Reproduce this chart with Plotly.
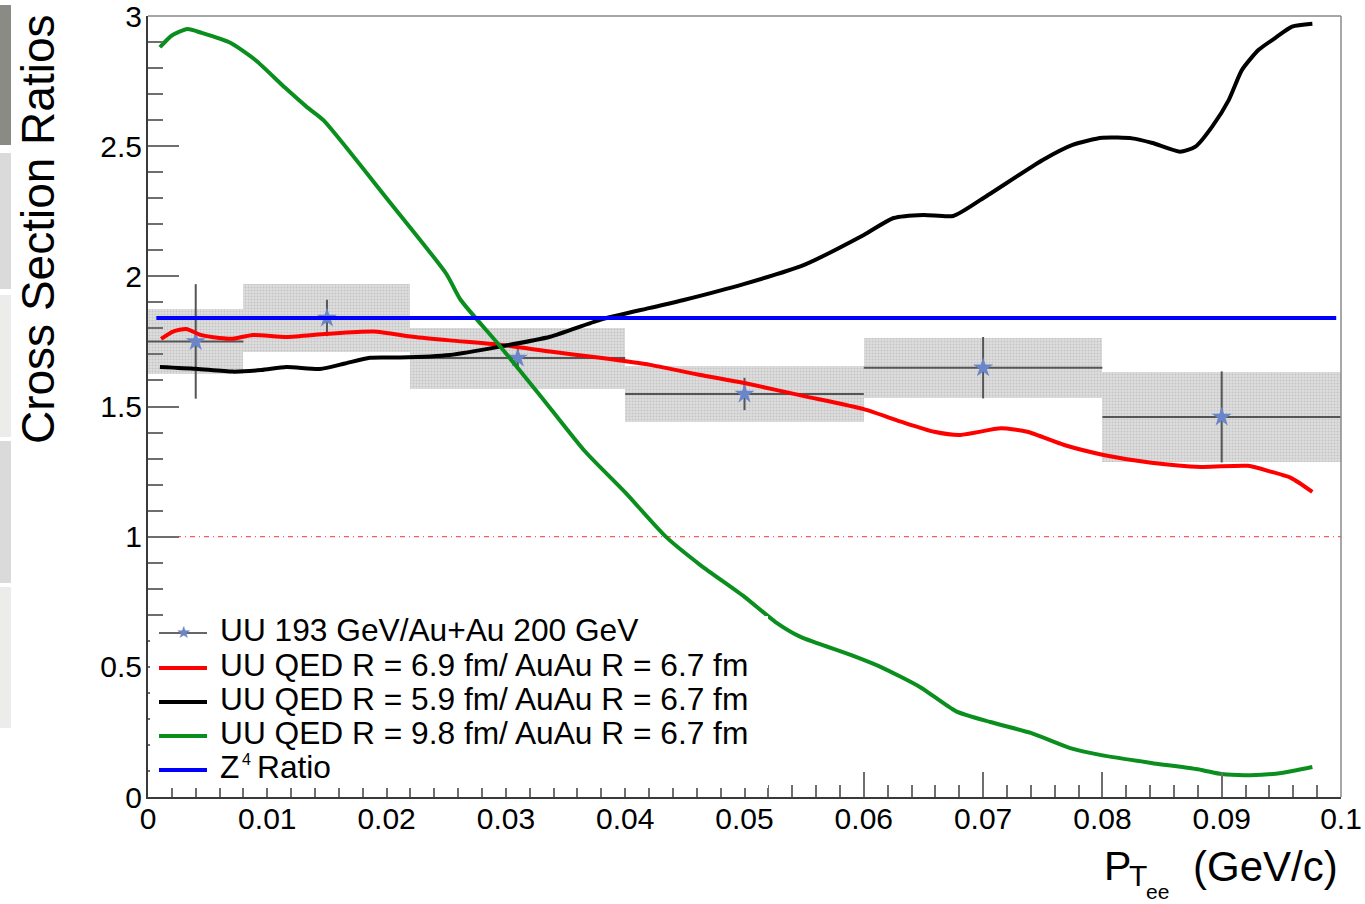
import plotly.graph_objects as go

# ---------------- data ----------------
# measured UU/AuAu ratio with statistical and systematic uncertainties
pt_data = [0.004, 0.015, 0.031, 0.05, 0.07, 0.09]
ratio_data = [1.75, 1.84, 1.686, 1.548, 1.649, 1.46]
pt_halfwidth = [0.004, 0.007, 0.009, 0.01, 0.01, 0.01]
stat_err = [0.22, 0.07, 0.035, 0.062, 0.118, 0.175]
sys_err = [0.124, 0.13, 0.117, 0.108, 0.115, 0.174]

# QED calculation, R(U) = 6.9 fm
pt_red = [0.0011, 0.0021, 0.0032, 0.0044, 0.006, 0.0071, 0.0088, 0.0116, 0.015,
          0.0189, 0.0222, 0.0253, 0.0295, 0.0337, 0.0379, 0.0421, 0.0449, 0.0463,
          0.05, 0.055, 0.06, 0.0631, 0.0659, 0.0681, 0.0715, 0.0737, 0.0768,
          0.0801, 0.0841, 0.0883, 0.0922, 0.0941, 0.0958, 0.0976]
ratio_red = [1.76, 1.788, 1.798, 1.775, 1.763, 1.76, 1.775, 1.767, 1.779,
             1.788, 1.768, 1.754, 1.737, 1.711, 1.687, 1.66, 1.634, 1.621,
             1.59, 1.54, 1.49, 1.442, 1.403, 1.391, 1.416, 1.403, 1.352,
             1.314, 1.284, 1.268, 1.272, 1.25, 1.226, 1.172]

# QED calculation, R(U) = 5.9 fm
pt_black = [0.001, 0.004, 0.0071, 0.0095, 0.0116, 0.0144, 0.0165, 0.0186, 0.0211,
            0.0253, 0.0295, 0.0337, 0.0379, 0.0421, 0.0449, 0.05, 0.055, 0.06,
            0.0625, 0.065, 0.0675, 0.07, 0.075, 0.0775, 0.08, 0.0825, 0.0842,
            0.0865, 0.0878, 0.0892, 0.0906, 0.0917, 0.0931, 0.0945, 0.0959, 0.0976]
ratio_black = [1.652, 1.645, 1.634, 1.64, 1.652, 1.644, 1.665, 1.687, 1.688,
               1.698, 1.73, 1.768, 1.833, 1.879, 1.909, 1.971, 2.044, 2.159,
               2.224, 2.236, 2.232, 2.30, 2.447, 2.505, 2.532, 2.53, 2.512,
               2.479, 2.498, 2.575, 2.678, 2.793, 2.87, 2.916, 2.959, 2.97]

# QED calculation, R(U) = 9.8 fm
pt_green = [0.001, 0.002, 0.0033, 0.0045, 0.0069, 0.009, 0.0115, 0.0133, 0.0147,
            0.02, 0.025, 0.0262, 0.0293, 0.033, 0.0366, 0.04, 0.0434, 0.0463,
            0.05, 0.0526, 0.0547, 0.0589, 0.0614, 0.0648, 0.0677, 0.0706, 0.074,
            0.0773, 0.0799, 0.0841, 0.0883, 0.09, 0.0924, 0.095, 0.0976]
ratio_green = [2.88, 2.925, 2.95, 2.935, 2.897, 2.831, 2.724, 2.651, 2.60,
               2.30, 2.01, 1.91, 1.743, 1.535, 1.329, 1.17, 1.0, 0.891,
               0.769, 0.672, 0.615, 0.546, 0.5, 0.42, 0.33, 0.288, 0.246,
               0.188, 0.161, 0.131, 0.104, 0.088, 0.084, 0.092, 0.115]

# Z^4 scaling, (92/79)^4
pt_z4 = [0.0007, 0.0996]
ratio_z4 = [1.84, 1.84]

# unity reference
pt_unity = [0.0, 0.1]
ratio_unity = [1.0, 1.0]

legend_labels = [
    "UU 193 GeV/Au+Au 200 GeV",
    "UU QED R = 6.9 fm/ AuAu R = 6.7 fm",
    "UU QED R = 5.9 fm/ AuAu R = 6.7 fm",
    "UU QED R = 9.8 fm/ AuAu R = 6.7 fm",
]
legend_colors = ["#666666", "#ff0000", "#000000", "#0a8f1e", "#0000ff"]

# ---------------- layout geometry (pixels) ----------------
FIG_W, FIG_H = 1365, 904
PL, PR, PT, PB = 148, 1341, 16, 797
PW, PH = PR - PL, PB - PT


def px(x):
    return (x - PL) / PW


def py(y):
    return (PB - y) / PH


FONT = "Liberation Sans, Arial, Helvetica, sans-serif"
STAR = "#6a86c8"
LEG_SIZE = 31.7

fig = go.Figure()

# systematic boxes
fig.add_trace(go.Bar(
    x=pt_data,
    y=[2 * s for s in sys_err],
    base=[r - s for r, s in zip(ratio_data, sys_err)],
    width=[2 * w for w in pt_halfwidth],
    marker=dict(color="#d4d4d4", line=dict(width=0),
                pattern=dict(shape=".", fgcolor="#acacac", bgcolor="#dedede",
                             size=3, solidity=0.4)),
    showlegend=False, hoverinfo="skip",
))

# data points with statistical errors
fig.add_trace(go.Scatter(
    x=pt_data, y=ratio_data, mode="markers",
    marker=dict(symbol="star", size=15, color=STAR, line=dict(width=0)),
    error_x=dict(type="data", array=pt_halfwidth, color="#555555", thickness=2, width=0),
    error_y=dict(type="data", array=stat_err, color="#555555", thickness=2, width=0),
    showlegend=False,
))

# unity line
fig.add_trace(go.Scatter(
    x=pt_unity, y=ratio_unity, mode="lines",
    line=dict(color="rgba(255,60,60,0.85)", width=1.2, dash="5px,4px,1px,4px"),
    showlegend=False, hoverinfo="skip",
))

for xs, ys, col in [(pt_red, ratio_red, "#ff0000"),
                    (pt_black, ratio_black, "#000000"),
                    (pt_green, ratio_green, "#0a8f1e"),
                    (pt_z4, ratio_z4, "#0000ff")]:
    fig.add_trace(go.Scatter(
        x=xs, y=ys, mode="lines", line=dict(color=col, width=4, shape="spline", smoothing=0.6),
        showlegend=False,
    ))

shapes = []
# frame: top and right edges
shapes.append(dict(type="line", xref="paper", yref="paper", x0=0, x1=1, y0=1, y1=1,
                   line=dict(color="#8a8a8a", width=1.5), layer="above"))
shapes.append(dict(type="line", xref="paper", yref="paper", x0=1, x1=1, y0=0, y1=1,
                   line=dict(color="#8a8a8a", width=1.5), layer="above"))

# side strip at the far left
for (y0, y1, c) in [(5, 145, "#8b8b85"), (153, 289, "#dadada"), (295, 437, "#ececea"),
                    (441, 583, "#dadada"), (587, 728, "#ececea")]:
    shapes.append(dict(type="rect", xref="paper", yref="paper",
                       x0=px(0), x1=px(11), y0=py(y1), y1=py(y0),
                       fillcolor=c, line=dict(width=0), layer="above"))

# legend background
shapes.append(dict(type="rect", xref="paper", yref="paper",
                   x0=px(150), x1=px(768), y0=py(788), y1=py(616),
                   fillcolor="white", line=dict(width=0), layer="above"))

rows = [633, 668, 702, 736, 770]
annotations = []
for i, (col, yr) in enumerate(zip(legend_colors, rows)):
    shapes.append(dict(type="line", xref="paper", yref="paper",
                       x0=px(159), x1=px(207), y0=py(yr), y1=py(yr),
                       line=dict(color=col, width=2 if i == 0 else 4), layer="above"))
for lab, yr in zip(legend_labels, rows):
    annotations.append(dict(text=lab, xref="paper", yref="paper",
                            x=px(218), y=py(yr - 3), xanchor="left", yanchor="middle",
                            showarrow=False, font=dict(family=FONT, size=LEG_SIZE, color="black")))
# last legend entry: Z with superscript 4, then "Ratio"
annotations.append(dict(text="Z", xref="paper", yref="paper", x=px(218), y=py(rows[4] - 3),
                        xanchor="left", yanchor="middle", showarrow=False,
                        font=dict(family=FONT, size=LEG_SIZE, color="black")))
annotations.append(dict(text="4", xref="paper", yref="paper", x=px(241), y=py(rows[4] - 11),
                        xanchor="left", yanchor="middle", showarrow=False, borderpad=0,
                        font=dict(family=FONT, size=16, color="black")))
annotations.append(dict(text="Ratio", xref="paper", yref="paper", x=px(255), y=py(rows[4] - 3),
                        xanchor="left", yanchor="middle", showarrow=False,
                        font=dict(family=FONT, size=LEG_SIZE, color="black")))
annotations.append(dict(text="★", xref="paper", yref="paper", x=px(183), y=py(632),
                        xanchor="center", yanchor="middle", showarrow=False,
                        font=dict(family="DejaVu Sans", size=17, color=STAR)))

# axis titles
annotations.append(dict(text="Cross Section Ratios", xref="paper", yref="paper",
                        x=px(38), y=py(12), xanchor="center", yanchor="top", textangle=-90,
                        showarrow=False, font=dict(family=FONT, size=46, color="black")))
annotations.append(dict(text="P", xref="paper", yref="paper", x=px(1102), y=py(866),
                        xanchor="left", yanchor="middle", showarrow=False,
                        font=dict(family=FONT, size=41, color="black")))
annotations.append(dict(text="T", xref="paper", yref="paper", x=px(1127), y=py(876),
                        xanchor="left", yanchor="middle", showarrow=False,
                        font=dict(family=FONT, size=30, color="black")))
annotations.append(dict(text="ee", xref="paper", yref="paper", x=px(1144), y=py(891),
                        xanchor="left", yanchor="middle", showarrow=False,
                        font=dict(family=FONT, size=21, color="black")))
annotations.append(dict(text="(GeV/c)", xref="paper", yref="paper", x=px(1340), y=py(866),
                        xanchor="right", yanchor="middle", showarrow=False,
                        font=dict(family=FONT, size=42, color="black")))

fig.update_layout(
    width=FIG_W, height=FIG_H,
    margin=dict(l=PL, r=FIG_W - PR, t=PT, b=FIG_H - PB, pad=0, autoexpand=False),
    paper_bgcolor="white", plot_bgcolor="white",
    barmode="overlay", bargap=0,
    showlegend=False,
    shapes=shapes, annotations=annotations,
    font=dict(family=FONT, color="black"),
)
fig.update_xaxes(
    range=[0, 0.1], tickmode="linear", tick0=0, dtick=0.01, automargin=False,
    ticks="inside", ticklen=25, tickwidth=1.5, tickcolor="#6e6e6e",
    minor=dict(ticks="inside", dtick=0.002, ticklen=12, tickwidth=1.5, tickcolor="#6e6e6e"),
    showgrid=False, zeroline=False,
    showline=True, linecolor="#3a3a3a", linewidth=2,
    tickfont=dict(family=FONT, size=30, color="black"),
    ticklabelstandoff=-6, ticklabeloverflow="allow",
)
fig.update_yaxes(
    range=[0, 3], tickmode="linear", tick0=0, dtick=0.5, automargin=False,
    ticks="inside", ticklen=31, tickwidth=1.5, tickcolor="#6e6e6e",
    minor=dict(ticks="inside", dtick=0.1, ticklen=15, tickwidth=1.5, tickcolor="#6e6e6e"),
    showgrid=False, zeroline=False,
    showline=True, linecolor="#3a3a3a", linewidth=2,
    tickfont=dict(family=FONT, size=30, color="black"),
    ticklabelstandoff=-2, ticklabeloverflow="allow",
)

fig.write_html("out.html")
